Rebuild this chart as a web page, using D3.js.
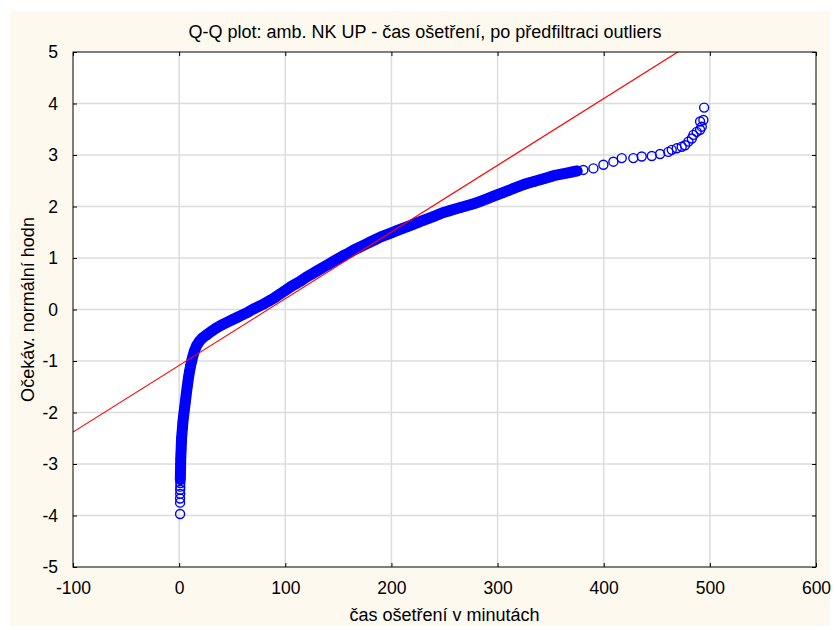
<!DOCTYPE html>
<html>
<head>
<meta charset="utf-8">
<script src="https://cdn.jsdelivr.net/npm/d3@7"></script>
<style>
  body { margin: 0; background: #fff; }
  svg { display: block; font-family: "Liberation Sans", Arial, sans-serif; }
</style>
</head>
<body>
<svg id="chart" width="836" height="630"></svg>
<script>
// Q-Q plot data (minutes, expected normal value)
const lowTailX = [0.9, 0.9, 0.9, 1.0, 1.0, 1.1, 1.1]
const lowTailY = [-3.97, -3.75, -3.67, -3.58, -3.5, -3.44, -3.37]

const bodyX = [1.1, 1.2, 1.3, 1.4, 1.5, 1.7, 1.9, 2.1, 2.3, 2.7, 3.1, 3.5, 4.0, 4.6, 5.2, 5.8, 6.4, 7.0, 7.6, 8.3,
  9.0, 9.8, 10.7, 11.8, 13.0, 14.5, 16.5, 19, 22, 26, 30, 35, 40, 45, 50, 55, 60, 65, 70, 75,
  80, 85, 90, 95, 100, 105, 110, 115, 120, 125, 130, 135, 140, 145, 150, 155, 160, 165, 170, 175,
  180, 185, 190, 195, 200, 205, 210, 215, 220, 225, 230, 235, 240, 245, 250, 255, 260, 265, 270, 275,
  280, 285, 290, 295, 300, 305, 310, 315, 320, 325, 330, 335, 340, 345, 350, 355, 360, 365, 370, 375]
const bodyY = [-3.3, -3.2, -3.1, -3.0, -2.9, -2.8, -2.7, -2.6, -2.5, -2.4, -2.3, -2.2, -2.1, -2.0, -1.9, -1.8, -1.7, -1.6, -1.5, -1.4,
  -1.3, -1.2, -1.1, -1.0, -0.9, -0.8, -0.7, -0.62, -0.55, -0.49, -0.43, -0.36, -0.3, -0.25, -0.2, -0.15, -0.1, -0.05, 0.01, 0.06,
  0.11, 0.17, 0.23, 0.3, 0.37, 0.44, 0.5, 0.56, 0.63, 0.69, 0.75, 0.81, 0.87, 0.93, 0.99, 1.05, 1.1, 1.16, 1.21, 1.26,
  1.31, 1.36, 1.41, 1.45, 1.49, 1.53, 1.57, 1.61, 1.65, 1.69, 1.73, 1.77, 1.81, 1.85, 1.89, 1.92, 1.95, 1.98, 2.01, 2.04,
  2.07, 2.11, 2.15, 2.19, 2.23, 2.27, 2.31, 2.35, 2.39, 2.43, 2.46, 2.49, 2.52, 2.55, 2.58, 2.61, 2.63, 2.65, 2.67, 2.69]

const highTailX = [380.8, 390.3, 399.7, 409.1, 417, 427.9, 435.8, 445.3, 453.1, 460.9, 464.1, 468.8, 473.5, 476.6,
  479.8, 483, 484.5, 487.6, 490.8, 492.4, 490.8, 493.9, 494.6]
const highTailY = [2.71, 2.74, 2.81, 2.87, 2.94, 2.94, 2.97, 2.98, 3.02, 3.06, 3.1, 3.13, 3.16, 3.19,
  3.26, 3.32, 3.39, 3.45, 3.49, 3.55, 3.65, 3.68, 3.92]

// reference line: y = (x - mean) / sd
const sampleMean = 83.8
const sampleSd = 77.2

const xTicks = [-100, 0, 100, 200, 300, 400, 500, 600]
const yTicks = [-5, -4, -3, -2, -1, 0, 1, 2, 3, 4, 5]

const titleText = 'Q-Q plot: amb. NK UP - čas ošetření, po předfiltraci outliers'
const xTitle = 'čas ošetření v minutách'
const yTitle = 'Očekáv. normální hodn'

//
const svg = d3.select('#chart')
const plot = { left: 73, top: 52, right: 816, bottom: 567 }

svg.append('rect')
  .attr('x', 10).attr('y', 11)
  .attr('width', 820).attr('height', 615)
  .attr('fill', '#fdf9ee')

const x = d3.scaleLinear().domain([-100, 600]).range([plot.left, plot.right])
const y = d3.scaleLinear().domain([-5, 5]).range([plot.bottom, plot.top])

svg.append('rect')
  .attr('x', plot.left).attr('y', plot.top)
  .attr('width', plot.right - plot.left).attr('height', plot.bottom - plot.top)
  .attr('fill', '#fff')

svg.append('clipPath').attr('id', 'clip')
  .append('rect')
  .attr('x', plot.left).attr('y', plot.top)
  .attr('width', plot.right - plot.left).attr('height', plot.bottom - plot.top)

// grid
const grid = svg.append('g').attr('stroke', '#dcdcdc').attr('stroke-width', 1.5)
grid.selectAll('line.gx')
  .data(xTicks.slice(1, -1))
  .join('line')
  .attr('x1', d => x(d)).attr('x2', d => x(d))
  .attr('y1', plot.top).attr('y2', plot.bottom)
grid.selectAll('line.gy')
  .data(yTicks.slice(1, -1))
  .join('line')
  .attr('class', 'gy')
  .attr('x1', plot.left).attr('x2', plot.right)
  .attr('y1', d => y(d)).attr('y2', d => y(d))

// axes with inward ticks
const fmt = d => String(d)
svg.append('g')
  .attr('transform', `translate(0,${plot.bottom})`)
  .call(d3.axisBottom(x).tickValues(xTicks).tickFormat(fmt).tickSizeInner(-4).tickSizeOuter(0).tickPadding(15))
  .call(g => g.select('.domain').remove())
svg.append('g')
  .attr('transform', `translate(${plot.left},0)`)
  .call(d3.axisLeft(y).tickValues(yTicks).tickFormat(fmt).tickSizeInner(-4).tickSizeOuter(0).tickPadding(15))
  .call(g => g.select('.domain').remove())
svg.append('g')
  .attr('transform', `translate(${plot.right},0)`)
  .call(d3.axisRight(y).tickValues(yTicks).tickSizeInner(-4).tickSizeOuter(0).tickFormat(''))
  .call(g => g.select('.domain').remove())
svg.append('g')
  .attr('transform', `translate(0,${plot.top})`)
  .call(d3.axisTop(x).tickValues(xTicks).tickSizeInner(-4).tickSizeOuter(0).tickFormat(''))
  .call(g => g.select('.domain').remove())

svg.selectAll('.tick text')
  .attr('font-size', 17.5)
  .attr('font-family', '"Liberation Sans", Arial, sans-serif')
  .attr('fill', '#000')
svg.selectAll('.tick line').attr('stroke', '#000')

// data layer
const layer = svg.append('g').attr('clip-path', 'url(#clip)')

const body = bodyX.map((v, i) => [v, bodyY[i]])
const points = [
  ...lowTailX.map((v, i) => [v, lowTailY[i]]),
  ...body,
  ...highTailX.map((v, i) => [v, highTailY[i]])
]

// dense body of overlapping markers
layer.append('path')
  .datum(body)
  .attr('d', d3.line().x(d => x(d[0])).y(d => y(d[1])))
  .attr('fill', 'none')
  .attr('stroke', '#0000ff')
  .attr('stroke-width', 11)
  .attr('stroke-linecap', 'round')
  .attr('stroke-linejoin', 'round')

layer.selectAll('circle')
  .data(points)
  .join('circle')
  .attr('cx', d => x(d[0]))
  .attr('cy', d => y(d[1]))
  .attr('r', 4.5)
  .attr('fill', 'none')
  .attr('stroke', '#0000ff')
  .attr('stroke-width', 1.4)

// reference line
const lineEnds = x.domain()
layer.append('line')
  .attr('x1', x(lineEnds[0])).attr('y1', y((lineEnds[0] - sampleMean) / sampleSd))
  .attr('x2', x(lineEnds[1])).attr('y2', y((lineEnds[1] - sampleMean) / sampleSd))
  .attr('stroke', '#ff0000')
  .attr('stroke-width', 1.2)

// frame
svg.append('rect')
  .attr('x', plot.left).attr('y', plot.top)
  .attr('width', plot.right - plot.left).attr('height', plot.bottom - plot.top)
  .attr('fill', 'none').attr('stroke', '#000').attr('stroke-width', 1)

// titles
svg.append('text')
  .attr('x', 425).attr('y', 38)
  .attr('text-anchor', 'middle').attr('font-size', 18)
  .text(titleText)
svg.append('text')
  .attr('x', (plot.left + plot.right) / 2).attr('y', 621)
  .attr('text-anchor', 'middle').attr('font-size', 18)
  .text(xTitle)
svg.append('text')
  .attr('transform', `translate(34,${(plot.top + plot.bottom) / 2}) rotate(-90)`)
  .attr('text-anchor', 'middle').attr('font-size', 18)
  .text(yTitle)
</script>
</body>
</html>
